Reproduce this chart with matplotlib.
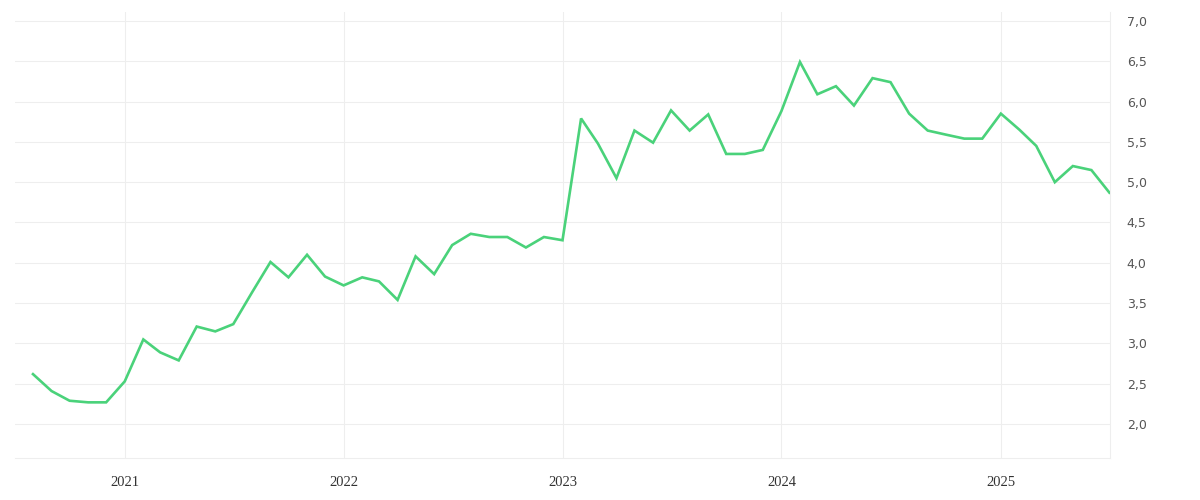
import matplotlib
matplotlib.use("Agg")
import matplotlib.pyplot as plt
import pandas as pd

dates = pd.date_range("2020-08-01", periods=60, freq="MS")
values = [
    2.62, 2.41, 2.29, 2.27, 2.27, 2.53, 3.05, 2.89, 2.79, 3.21,
    3.15, 3.24, 3.63, 4.01, 3.82, 4.10, 3.83, 3.72, 3.82, 3.77,
    3.54, 4.08, 3.86, 4.22, 4.36, 4.32, 4.32, 4.19, 4.32, 4.28,
    5.79, 5.48, 5.05, 5.64, 5.49, 5.89, 5.64, 5.84, 5.35, 5.35,
    5.40, 5.88, 6.49, 6.09, 6.19, 5.95, 6.29, 6.24, 5.85, 5.64,
    5.59, 5.54, 5.54, 5.85, 5.65, 5.45, 5.00, 5.20, 5.15, 4.87,
]
year_ticks = pd.to_datetime(["2021-01-01", "2022-01-01", "2023-01-01", "2024-01-01", "2025-01-01"])
year_labels = ["2021", "2022", "2023", "2024", "2025"]
y_ticks = [2.0, 2.5, 3.0, 3.5, 4.0, 4.5, 5.0, 5.5, 6.0, 6.5, 7.0]

fig = plt.figure(figsize=(12, 5), dpi=100)
ax = fig.add_axes([15/1200, 1-458/500, (1110-15)/1200, (458-12)/500])

ax.plot(dates, values, color="#4ad27a", lw=1.9, solid_joinstyle="miter", zorder=3)

ax.set_xlim(pd.Timestamp("2020-07-02"), pd.Timestamp("2025-07-02"))
ax.set_ylim(1.58, 7.11)

ax.set_xticks(year_ticks)
ax.set_xticklabels(year_labels, fontfamily="Liberation Serif", fontsize=10.5, color="#333333")
ax.set_yticks(y_ticks)
ax.set_yticklabels([f"{v:.1f}".replace(".", ",") for v in y_ticks],
                   fontfamily="DejaVu Sans", fontsize=9, color="#555555")
ax.yaxis.tick_right()
ax.tick_params(axis="y", length=0, pad=12)
ax.tick_params(axis="x", length=0, pad=13)

ax.grid(True, color="#eeeeee", lw=0.8)
ax.set_axisbelow(True)
for s in ["top", "left"]:
    ax.spines[s].set_visible(False)
for s in ["right", "bottom"]:
    ax.spines[s].set_color("#eeeeee")
    ax.spines[s].set_linewidth(0.8)

fig.savefig("out.png", dpi=100)
